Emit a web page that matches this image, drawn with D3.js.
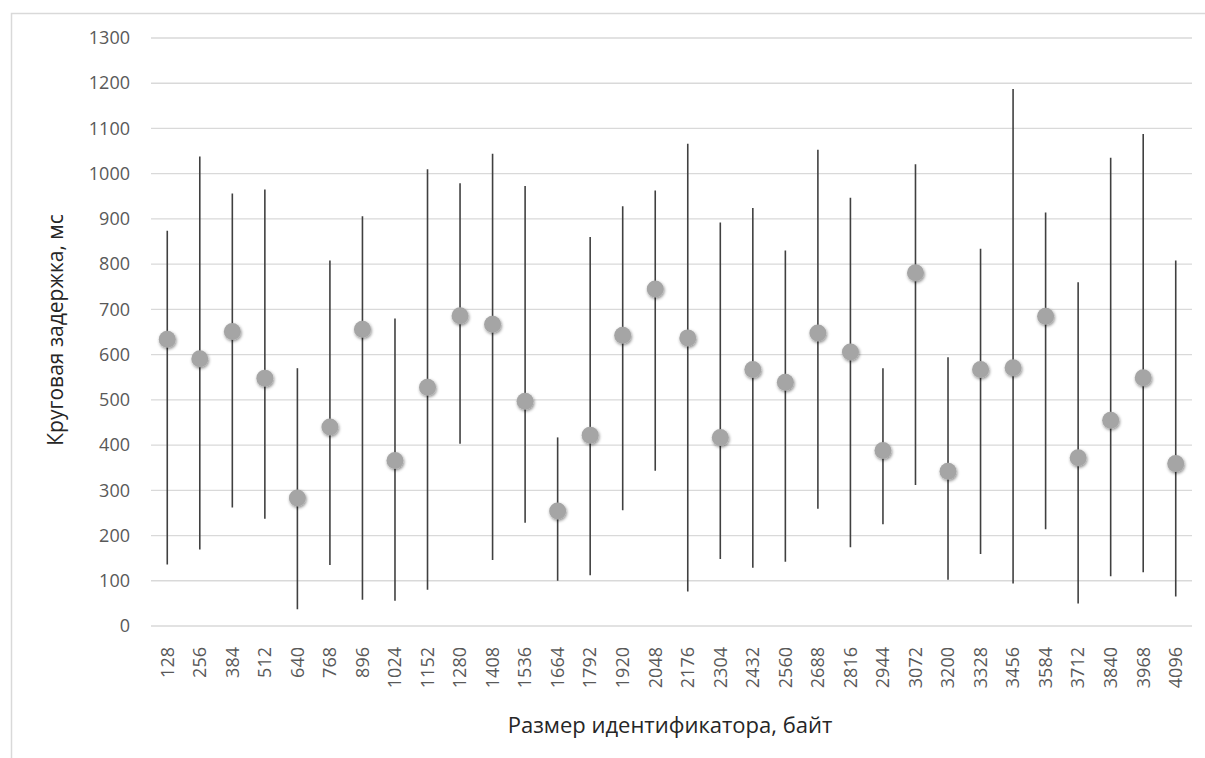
<!DOCTYPE html>
<html>
<head>
<meta charset="utf-8">
<script src="https://cdn.jsdelivr.net/npm/d3@7"></script>
<style>
  body { margin: 0; background: #fff; }
  svg text { font-family: "Open Sans", "Noto Sans", sans-serif; }
</style>
</head>
<body>
<div id="chart"></div>
<script>
// размер идентификатора, байт
const sizes = [128, 256, 384, 512, 640, 768, 896, 1024, 1152, 1280, 1408, 1536, 1664, 1792, 1920, 2048,
    2176, 2304, 2432, 2560, 2688, 2816, 2944, 3072, 3200, 3328, 3456, 3584, 3712, 3840, 3968, 4096];
// круговая задержка, мс
const maxDelay = [874, 1038, 956, 965, 570, 808, 906, 680, 1010, 979, 1044, 973, 417, 860, 928, 963,
    1066, 892, 924, 830, 1053, 947, 570, 1021, 594, 834, 1187, 914, 760, 1035, 1088, 808];
const minDelay = [136, 169, 262, 237, 37, 135, 58, 56, 80, 403, 146, 228, 100, 112, 256, 343,
    76, 148, 129, 142, 259, 174, 225, 312, 102, 159, 94, 214, 50, 110, 119, 65];
const meanDelay = [634, 591, 651, 548, 283, 440, 656, 366, 528, 686, 667, 497, 254, 422, 643, 745,
    637, 417, 567, 539, 648, 606, 388, 781, 342, 567, 571, 685, 372, 455, 549, 359];
const yTicks = d3.range(0, 1301, 100);

const width = 1205;
const height = 758;
const margin = { top: 38, right: 13, bottom: 132, left: 151 };

const svg = d3.select('#chart')
    .append('svg')
    .attr('width', width)
    .attr('height', height);

// рамка
svg.append('rect')
    .attr('x', 11.5)
    .attr('y', 13.5)
    .attr('width', width)
    .attr('height', height)
    .attr('fill', 'none')
    .attr('stroke', '#d9d9d9')
    .attr('stroke-width', 1.5);

const x = d3.scaleBand()
    .domain(sizes)
    .range([margin.left, width - margin.right]);

const y = d3.scaleLinear()
    .domain([0, 1300])
    .range([height - margin.bottom, margin.top]);

// сетка
svg.append('g')
    .selectAll('line')
    .data(yTicks)
    .enter()
    .append('line')
    .attr('x1', margin.left)
    .attr('x2', width - margin.right)
    .attr('y1', (d) => y(d))
    .attr('y2', (d) => y(d))
    .attr('stroke', '#d9d9d9')
    .attr('stroke-width', 1.3);

const yAxis = svg.append('g')
    .attr('transform', 'translate(130,0)')
    .call(d3.axisLeft(y).tickValues(yTicks).tickFormat(d3.format('d')).tickSize(0).tickPadding(0));
yAxis.select('.domain').remove();
yAxis.selectAll('text')
    .attr('fill', '#595959')
    .style('font-size', '18px');

const xAxis = svg.append('g')
    .attr('transform', 'translate(0,' + (height - margin.bottom) + ')')
    .call(d3.axisBottom(x).tickSize(0));
xAxis.select('.domain').remove();
xAxis.selectAll('text')
    .attr('fill', '#595959')
    .style('font-size', '18px')
    .attr('transform', 'rotate(-90)')
    .attr('text-anchor', 'end')
    .attr('x', -21)
    .attr('y', 0)
    .attr('dy', '0.35em');

// тень для маркеров
const defs = svg.append('defs');
const shadow = defs.append('filter')
    .attr('id', 'shadow')
    .attr('x', '-50%').attr('y', '-50%')
    .attr('width', '200%').attr('height', '200%');
shadow.append('feDropShadow')
    .attr('dx', 0.8).attr('dy', 1.5)
    .attr('stdDeviation', 1.6)
    .attr('flood-color', '#000')
    .attr('flood-opacity', 0.45);

const cx = (d) => x(d) + x.bandwidth() / 2;

svg.append('g')
    .selectAll('line')
    .data(sizes)
    .enter()
    .append('line')
    .attr('x1', cx)
    .attr('x2', cx)
    .attr('y1', (d, i) => y(minDelay[i]))
    .attr('y2', (d, i) => y(maxDelay[i]))
    .attr('stroke', '#404040')
    .attr('stroke-width', 1.6);

svg.append('g')
    .selectAll('circle')
    .data(sizes)
    .enter()
    .append('circle')
    .attr('cx', cx)
    .attr('cy', (d, i) => y(meanDelay[i]))
    .attr('r', 8.5)
    .attr('fill', '#a5a5a5')
    .attr('filter', 'url(#shadow)');

svg.append('text')
    .attr('transform', 'translate(63,330) rotate(-90)')
    .attr('text-anchor', 'middle')
    .attr('fill', '#262626')
    .style('font-size', '21px')
    .text('Круговая задержка, мс');

svg.append('text')
    .attr('x', 670)
    .attr('y', 733)
    .attr('text-anchor', 'middle')
    .attr('fill', '#262626')
    .style('font-size', '22px')
    .text('Размер идентификатора, байт');
</script>
</body>
</html>
